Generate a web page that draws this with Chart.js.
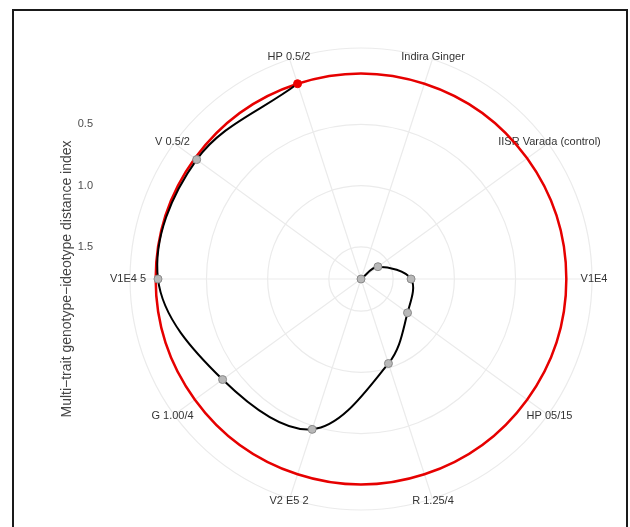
<!DOCTYPE html>
<html>
<head>
<meta charset="utf-8">
<script src="https://cdn.jsdelivr.net/npm/chart.js@4"></script>
<style>
  html, body { margin: 0; padding: 0; background: #fff; }
  #wrap { position: relative; width: 630px; height: 527px; }
</style>
</head>
<body>
<div id="wrap"><canvas id="mgidi"></canvas></div>
<script>
// genotypes ordered by decreasing MGIDI (first one sits at the centre)
const genotypes = ['Indira Ginger', 'IISR Varada (control)', 'V1E4', 'HP 05/15', 'R 1.25/4',
                   'V2 E5 2', 'G 1.00/4', 'V1E4 5', 'V 0.5/2', 'HP 0.5/2'];
const mgidi = [1.763, 1.592, 1.354, 1.293, 1.037, 0.471, 0.365, 0.104, 0.103, 0.085];
const selected = ['HP 0.5/2'];
const radialTicks = [0.5, 1.0, 1.5];
const axisTitle = 'Multi\u2212trait genotype\u2212ideotype distance index';

const cutpoint = Math.max(...mgidi.filter((v, i) => selected.includes(genotypes[i])));
const maxVal = Math.max(...mgidi);
const minVal = Math.min(...mgidi);
// data fills 0.4 of the 0.45 polar radius, like ggplot's coord_polar
const outerVal = maxVal - (maxVal - minVal) * 0.45 / 0.4;

const FONT = '"Liberation Sans", Arial, sans-serif';

// radar lines always close; the MGIDI path should stay open (geom_path)
const openPath = {
    id: 'openPath',
    beforeDatasetDraw(chart, args) {
        if (args.index !== 0) return;
        const line = args.meta.dataset;
        if (!line || !line._loop) return;
        line._loop = false;
        line._fullLoop = false;
        delete line._segments;
        delete line._path;
        line._pointsUpdated = false;
        if (typeof line.updateControlPoints === 'function') {
            line.updateControlPoints(chart.chartArea, 'x');
        }
    }
};

const decorations = {
    id: 'decorations',
    beforeDatasetsDraw(chart) {
        const r = chart.scales.r;
        const ctx = chart.ctx;
        ctx.save();
        ctx.font = '11px ' + FONT;
        ctx.fillStyle = '#333333';
        ctx.textAlign = 'center';
        ctx.textBaseline = 'middle';
        genotypes.forEach((g, i) => {
            const p = r.getPointPosition(i, r.drawingArea + 2);
            ctx.fillText(g, p.x, p.y);
        });

        ctx.textAlign = 'right';
        ctx.fillStyle = '#4d4d4d';
        radialTicks.forEach(v => {
            ctx.fillText(v.toFixed(1), 93, r.yCenter - r.getDistanceFromCenterForValue(v));
        });

        ctx.translate(67, r.yCenter);
        ctx.rotate(-Math.PI / 2);
        ctx.font = '14px ' + FONT;
        ctx.textAlign = 'center';
        ctx.fillStyle = '#444444';
        ctx.fillText(axisTitle, 0, 0);
        ctx.restore();
    },
    afterDraw(chart) {
        const ctx = chart.ctx;
        ctx.save();
        ctx.strokeStyle = '#1a1a1a';
        ctx.lineWidth = 2;
        ctx.strokeRect(13, 10, 614, 540);
        ctx.restore();
    }
};

new Chart(document.getElementById('mgidi'), {
    type: 'radar',
    data: {
        labels: genotypes,
        datasets: [
            {
                label: 'MGIDI',
                data: mgidi,
                borderColor: '#000000',
                borderWidth: 2,
                tension: 0.36,
                fill: false,
                pointRadius: 4,
                pointBorderWidth: 1,
                pointBackgroundColor: genotypes.map(g => selected.includes(g) ? '#ee0000' : '#b8b8b8'),
                pointBorderColor: genotypes.map(g => selected.includes(g) ? '#ee0000' : '#8a8a8a')
            },
            {
                label: 'Cutpoint',
                data: genotypes.map(() => cutpoint),
                borderColor: '#e60000',
                borderWidth: 2.5,
                tension: 0.36,
                fill: false,
                pointRadius: 0
            }
        ]
    },
    options: {
        responsive: true,
        maintainAspectRatio: false,
        animation: false,
        layout: { padding: { left: 130, right: 38, top: 48, bottom: 17 } },
        plugins: {
            legend: { display: false },
            tooltip: { enabled: false }
        },
        scales: {
            r: {
                reverse: true,
                min: outerVal,
                max: maxVal,
                startAngle: 18,
                ticks: { display: false, reverse: true },
                afterBuildTicks: s => {
                    s.ticks = [outerVal, ...radialTicks].map(v => ({ value: v }));
                },
                grid: { circular: true, color: '#ebebeb', lineWidth: 1.2 },
                angleLines: { color: '#ebebeb', lineWidth: 1.2 },
                pointLabels: { display: false }
            }
        }
    },
    plugins: [openPath, decorations]
});
</script>
</body>
</html>
